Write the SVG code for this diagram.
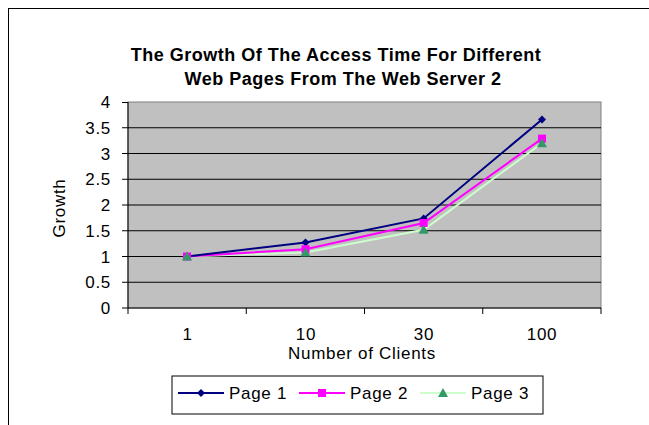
<svg xmlns="http://www.w3.org/2000/svg" width="649" height="425" viewBox="0 0 649 425">
  <style>
    text { font-family: "Liberation Sans", Arial, sans-serif; fill: #000; }
    .title { font-size: 18px; font-weight: bold; text-anchor: middle; letter-spacing: 0.5px; }
    .tick { font-size: 17px; letter-spacing: 0.7px; }
    .ylab { text-anchor: end; }
    .xlab { text-anchor: middle; }
    .axtitle { font-size: 17px; text-anchor: middle; letter-spacing: 0.7px; }
    .leg { font-size: 17px; letter-spacing: 0.7px; }
    .grid { stroke: #000; stroke-width: 1; }
    .axis { stroke: #000; stroke-width: 1; fill: none; }
    .s1 { stroke: #000080; stroke-width: 2; fill: none; }
    .s2 { stroke: #FF00FF; stroke-width: 2; fill: none; }
    .s3 { stroke: #CCFFCC; stroke-width: 2; fill: none; }
  </style>
  <defs>
    <path id="m1" d="M0,-4 L4,0 L0,4 L-4,0 Z" fill="#000080"/>
    <rect id="m2" x="-4" y="-4" width="8" height="8" fill="#FF00FF"/>
    <path id="m3" d="M0,-5 L5,4 L-5,4 Z" fill="#339966"/>
  </defs>

  <rect x="0" y="0" width="649" height="425" fill="#fff"/>
  <!-- chart frame -->
  <rect x="8.5" y="8.5" width="660" height="430" fill="none" stroke="#000" stroke-width="1"/>

  <g id="title">
    <text class="title" x="336" y="61">The Growth Of The Access Time For Different</text>
    <text class="title" x="343" y="85">Web Pages From The Web Server 2</text>
  </g>

  <g id="plot-area">
    <rect x="128" y="102" width="473" height="206" fill="#C0C0C0" stroke="#808080" stroke-width="1"/>
    <g class="grid">
      <line x1="128" y1="127.75" x2="601" y2="127.75"/>
      <line x1="128" y1="153.5" x2="601" y2="153.5"/>
      <line x1="128" y1="179.25" x2="601" y2="179.25"/>
      <line x1="128" y1="205" x2="601" y2="205"/>
      <line x1="128" y1="230.75" x2="601" y2="230.75"/>
      <line x1="128" y1="256.5" x2="601" y2="256.5"/>
      <line x1="128" y1="282.25" x2="601" y2="282.25"/>
    </g>
  </g>

  <g id="y-axis">
    <path class="axis" d="M128,102 V308"/>
    <path class="axis" d="M122,102.5 H128 M122,127.75 H128 M122,153.5 H128 M122,179.25 H128 M122,205 H128 M122,230.75 H128 M122,256.5 H128 M122,282.25 H128 M122,308 H128"/>
    <g class="tick ylab">
      <text x="111" y="108">4</text>
      <text x="111" y="133.8">3.5</text>
      <text x="111" y="159.5">3</text>
      <text x="111" y="185.3">2.5</text>
      <text x="111" y="211">2</text>
      <text x="111" y="236.8">1.5</text>
      <text x="111" y="262.5">1</text>
      <text x="111" y="288.3">0.5</text>
      <text x="111" y="314">0</text>
    </g>
    <text class="axtitle" transform="translate(65,208) rotate(-90)">Growth</text>
  </g>

  <g id="x-axis">
    <path class="axis" d="M128,308 H601"/>
    <path class="axis" d="M128,308 V314 M246.25,308 V314 M364.5,308 V314 M482.75,308 V314 M601,308 V314"/>
    <g class="tick xlab">
      <text x="187.5" y="339.5">1</text>
      <text x="306" y="339.5">10</text>
      <text x="424" y="339.5">30</text>
      <text x="542" y="339.5">100</text>
    </g>
    <text class="axtitle" x="362" y="359">Number of Clients</text>
  </g>

  <g id="series">
    <polyline class="s3" points="187,256.5 305.5,252.4 423.6,229.7 542,143.2"/>
    <polyline class="s2" points="187,256.5 305.5,249.2 423.6,223 542,138.6"/>
    <polyline class="s1" points="187,256.5 305.5,242.4 423.6,218.4 542,119.5"/>
    <g id="page1-markers">
      <use href="#m1" x="187" y="256.5"/>
      <use href="#m1" x="305.5" y="242.4"/>
      <use href="#m1" x="423.6" y="218.4"/>
      <use href="#m1" x="542" y="119.5"/>
    </g>
    <g id="page2-markers">
      <use href="#m2" x="187" y="256.5"/>
      <use href="#m2" x="305.5" y="249.2"/>
      <use href="#m2" x="423.6" y="223"/>
      <use href="#m2" x="542" y="138.6"/>
    </g>
    <g id="page3-markers">
      <use href="#m3" x="187" y="256.5"/>
      <use href="#m3" x="305.5" y="252.4"/>
      <use href="#m3" x="423.6" y="229.7"/>
      <use href="#m3" x="542" y="143.2"/>
    </g>
  </g>

  <g id="legend">
    <rect x="172" y="376" width="371" height="38" fill="#fff" stroke="#000" stroke-width="1"/>
    <line class="s1" x1="178" y1="393" x2="224" y2="393"/>
    <use href="#m1" x="201" y="393"/>
    <text class="leg" x="229" y="399">Page 1</text>
    <line class="s2" x1="299" y1="393" x2="345" y2="393"/>
    <use href="#m2" x="322" y="393"/>
    <text class="leg" x="350" y="399">Page 2</text>
    <line class="s3" x1="420" y1="393" x2="466" y2="393"/>
    <use href="#m3" x="443" y="393"/>
    <text class="leg" x="471" y="399">Page 3</text>
  </g>
</svg>
